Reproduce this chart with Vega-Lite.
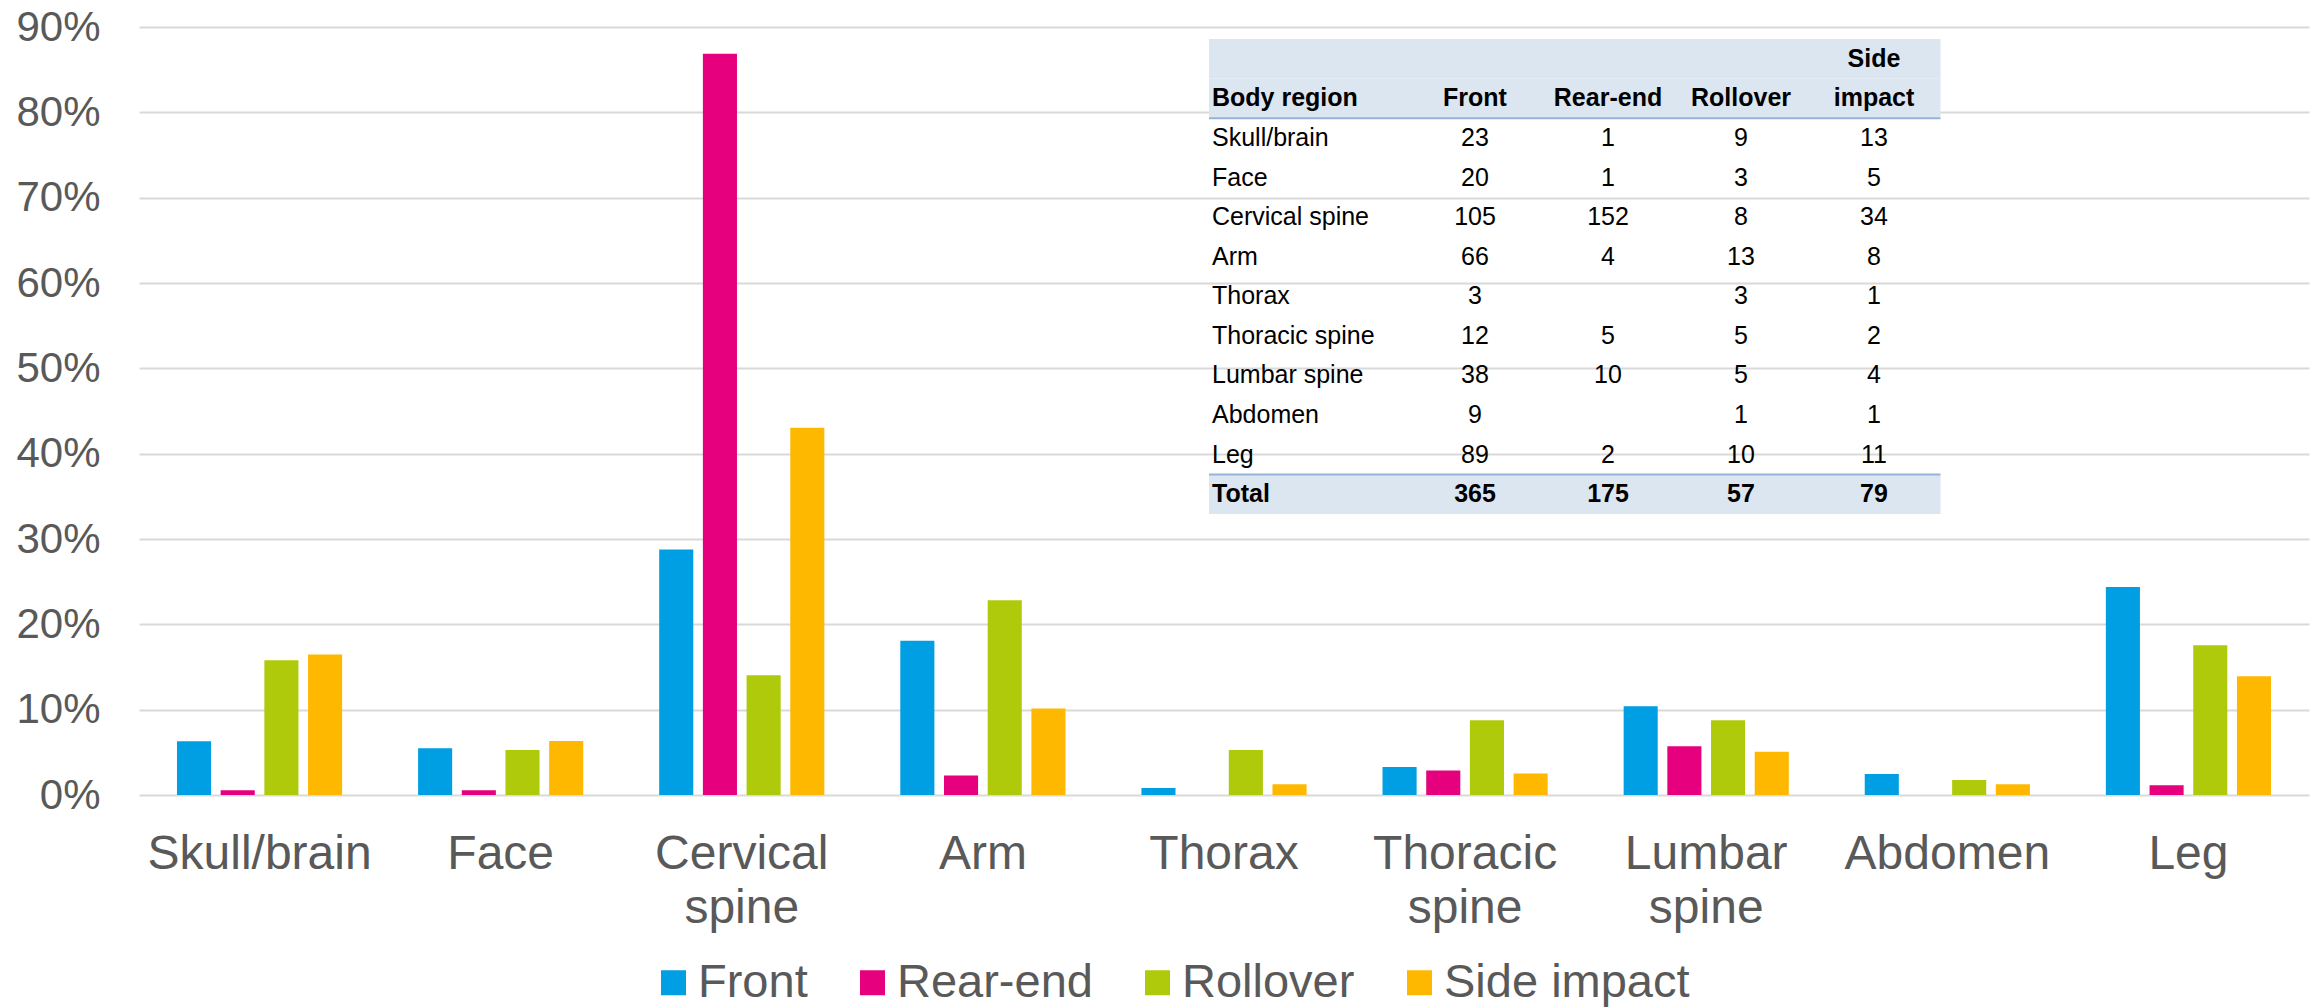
{
  "$schema": "https://vega.github.io/schema/vega-lite/v6.json",
  "width": 2170,
  "height": 768,
  "autosize": "none",
  "padding": {"left": 139, "top": 27, "right": 9, "bottom": 212},
  "background": "white",
  "config": {"view": {"stroke": null}, "font": "Liberation Sans"},
  "datasets": {
    "injuries": [
      {"region": "Skull/brain", "type": "Front", "count": 23, "pct": 0.0630},
      {"region": "Skull/brain", "type": "Rear-end", "count": 1, "pct": 0.0057},
      {"region": "Skull/brain", "type": "Rollover", "count": 9, "pct": 0.1579},
      {"region": "Skull/brain", "type": "Side impact", "count": 13, "pct": 0.1646},
      {"region": "Face", "type": "Front", "count": 20, "pct": 0.0548},
      {"region": "Face", "type": "Rear-end", "count": 1, "pct": 0.0057},
      {"region": "Face", "type": "Rollover", "count": 3, "pct": 0.0526},
      {"region": "Face", "type": "Side impact", "count": 5, "pct": 0.0633},
      {"region": "Cervical spine", "type": "Front", "count": 105, "pct": 0.2877},
      {"region": "Cervical spine", "type": "Rear-end", "count": 152, "pct": 0.8686},
      {"region": "Cervical spine", "type": "Rollover", "count": 8, "pct": 0.1404},
      {"region": "Cervical spine", "type": "Side impact", "count": 34, "pct": 0.4304},
      {"region": "Arm", "type": "Front", "count": 66, "pct": 0.1808},
      {"region": "Arm", "type": "Rear-end", "count": 4, "pct": 0.0229},
      {"region": "Arm", "type": "Rollover", "count": 13, "pct": 0.2281},
      {"region": "Arm", "type": "Side impact", "count": 8, "pct": 0.1013},
      {"region": "Thorax", "type": "Front", "count": 3, "pct": 0.0082},
      {"region": "Thorax", "type": "Rear-end", "count": null, "pct": null},
      {"region": "Thorax", "type": "Rollover", "count": 3, "pct": 0.0526},
      {"region": "Thorax", "type": "Side impact", "count": 1, "pct": 0.0127},
      {"region": "Thoracic spine", "type": "Front", "count": 12, "pct": 0.0329},
      {"region": "Thoracic spine", "type": "Rear-end", "count": 5, "pct": 0.0286},
      {"region": "Thoracic spine", "type": "Rollover", "count": 5, "pct": 0.0877},
      {"region": "Thoracic spine", "type": "Side impact", "count": 2, "pct": 0.0253},
      {"region": "Lumbar spine", "type": "Front", "count": 38, "pct": 0.1041},
      {"region": "Lumbar spine", "type": "Rear-end", "count": 10, "pct": 0.0571},
      {"region": "Lumbar spine", "type": "Rollover", "count": 5, "pct": 0.0877},
      {"region": "Lumbar spine", "type": "Side impact", "count": 4, "pct": 0.0506},
      {"region": "Abdomen", "type": "Front", "count": 9, "pct": 0.0247},
      {"region": "Abdomen", "type": "Rear-end", "count": null, "pct": null},
      {"region": "Abdomen", "type": "Rollover", "count": 1, "pct": 0.0175},
      {"region": "Abdomen", "type": "Side impact", "count": 1, "pct": 0.0127},
      {"region": "Leg", "type": "Front", "count": 89, "pct": 0.2438},
      {"region": "Leg", "type": "Rear-end", "count": 2, "pct": 0.0114},
      {"region": "Leg", "type": "Rollover", "count": 10, "pct": 0.1754},
      {"region": "Leg", "type": "Side impact", "count": 11, "pct": 0.1392}
    ],
    "tablehead": [
      {"row": "h2", "col": "Body region", "label": "Body region"},
      {"row": "h2", "col": "Front", "label": "Front"},
      {"row": "h2", "col": "Rear-end", "label": "Rear-end"},
      {"row": "h2", "col": "Rollover", "label": "Rollover"},
      {"row": "h1", "col": "Side impact", "label": "Side"},
      {"row": "h2", "col": "Side impact", "label": "impact"},
      {"row": "Total", "col": "Body region", "label": "Total"},
      {"row": "Total", "col": "Front", "label": "365"},
      {"row": "Total", "col": "Rear-end", "label": "175"},
      {"row": "Total", "col": "Rollover", "label": "57"},
      {"row": "Total", "col": "Side impact", "label": "79"}
    ],
    "bands": [{"row": "h1"}, {"row": "h2"}, {"row": "Total"}],
    "lines": [{"row": "Skull/brain"}, {"row": "Total"}]
  },
  "layer": [
    {
      "data": {"name": "injuries"},
      "mark": {"type": "bar"},
      "encoding": {
        "x": {
          "field": "region", "type": "nominal",
          "scale": {
            "domain": ["Skull/brain", "Face", "Cervical spine", "Arm", "Thorax", "Thoracic spine", "Lumbar spine", "Abdomen", "Leg"],
            "paddingInner": 0.315, "paddingOuter": 0.1575
          },
          "axis": {
            "title": null, "labelAngle": 0, "labelFontSize": 48, "labelColor": "#595959", "labelLimit": 0,
            "labelPadding": 35, "labelLineHeight": 54, "ticks": false, "tickSize": 0, "domain": false,
            "labelExpr": "split(datum.label, ' ')"
          }
        },
        "xOffset": {
          "field": "type", "type": "nominal",
          "scale": {"domain": ["Front", "Rear-end", "Rollover", "Side impact"], "paddingInner": 0.22, "paddingOuter": 0}
        },
        "y": {
          "field": "pct", "type": "quantitative",
          "scale": {"domain": [0, 0.9], "nice": false},
          "axis": {
            "title": null, "format": ".0%", "values": [0, 0.1, 0.2, 0.3, 0.4, 0.5, 0.6, 0.7, 0.8, 0.9],
            "labelFontSize": 42, "labelColor": "#595959", "labelPadding": 39, "ticks": false, "tickSize": 0,
            "domain": false, "grid": true, "gridColor": "#D9D9D9", "gridWidth": 2
          }
        },
        "color": {
          "field": "type", "type": "nominal",
          "scale": {"domain": ["Front", "Rear-end", "Rollover", "Side impact"], "range": ["#009FE3", "#E6007E", "#AFCA0B", "#FFB800"]},
          "legend": {
            "title": null, "orient": "none", "legendX": 511, "legendY": 932, "direction": "horizontal", "columns": 4,
            "symbolType": "square", "symbolSize": 625, "symbolStrokeWidth": 0, "labelFontSize": 47, "labelLimit": 0,
            "labelColor": "#595959", "labelOffset": 1, "columnPadding": 41, "padding": 0
          }
        }
      }
    },
    {
      "layer": [
        {
          "data": {"name": "bands"},
          "mark": {"type": "rect", "color": "#DCE6F1"},
          "encoding": {
            "x": {"datum": "Body region", "type": "ordinal", "scale": {"type": "point", "domain": ["Body region", "s1", "s2", "s3", "Front", "s4", "Rear-end", "s5", "Rollover", "s6", "Side impact", "_end"], "range": [1070, 1801.5], "padding": 0}, "axis": null},
            "x2": {"datum": "_end"},
            "y": {"field": "row", "type": "ordinal", "scale": {"type": "band", "domain": ["h1", "h2", "Skull/brain", "Face", "Cervical spine", "Arm", "Thorax", "Thoracic spine", "Lumbar spine", "Abdomen", "Leg", "Total"], "range": [12, 487], "paddingInner": 0, "paddingOuter": 0}, "axis": null}
          }
        },
        {
          "data": {"name": "lines"},
          "mark": {"type": "rule", "color": "#95B3D7", "strokeWidth": 2},
          "encoding": {
            "x": {"datum": "Body region", "type": "ordinal"},
            "x2": {"datum": "_end"},
            "y": {"field": "row", "type": "ordinal", "bandPosition": 0}
          }
        },
        {
          "data": {"name": "tablehead"},
          "transform": [{"filter": "datum.col === 'Body region'"}],
          "mark": {"type": "text", "align": "left", "baseline": "middle", "dx": 3, "font": "Liberation Sans", "fontWeight": "bold", "fontSize": 25, "color": "#000000"},
          "encoding": {
            "x": {"field": "col", "type": "ordinal"},
            "y": {"field": "row", "type": "ordinal"},
            "text": {"field": "label"}
          }
        },
        {
          "data": {"name": "tablehead"},
          "transform": [{"filter": "datum.col !== 'Body region'"}],
          "mark": {"type": "text", "align": "center", "baseline": "middle", "font": "Liberation Sans", "fontWeight": "bold", "fontSize": 25, "color": "#000000"},
          "encoding": {
            "x": {"field": "col", "type": "ordinal"},
            "y": {"field": "row", "type": "ordinal"},
            "text": {"field": "label"}
          }
        },
        {
          "data": {"name": "injuries"},
          "transform": [{"filter": "datum.type === 'Front'"}],
          "mark": {"type": "text", "align": "left", "baseline": "middle", "dx": 3, "font": "Liberation Sans", "fontSize": 25, "color": "#000000"},
          "encoding": {
            "x": {"datum": "Body region", "type": "ordinal"},
            "y": {"field": "region", "type": "ordinal"},
            "text": {"field": "region"}
          }
        },
        {
          "data": {"name": "injuries"},
          "transform": [{"filter": "datum.count != null"}],
          "mark": {"type": "text", "align": "center", "baseline": "middle", "font": "Liberation Sans", "fontSize": 25, "color": "#000000"},
          "encoding": {
            "x": {"field": "type", "type": "ordinal"},
            "y": {"field": "region", "type": "ordinal"},
            "text": {"field": "count"}
          }
        }
      ]
    }
  ],
  "resolve": {"scale": {"x": "independent", "y": "independent", "color": "independent"}}
}
